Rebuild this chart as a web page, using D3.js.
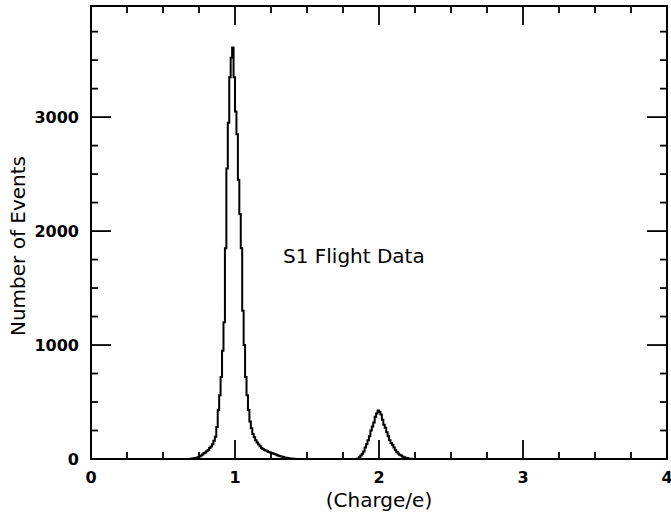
<!DOCTYPE html>
<head>
  <meta charset="utf-8">
  <title>S1 Flight Data</title>
  <script src="https://cdn.jsdelivr.net/npm/d3@7"></script>
  <style>
  body {
    margin: 0;
    background: white;
    font-family: "DejaVu Sans", sans-serif;
  }
  .tick-label {
    font-weight: bold;
    font-size: 16px;
  }
  .title {
    font-size: 20px;
  }
  </style>
</head>
<body>
<script type="text/javascript">
// Histogram data: bin width 0.01 in charge/e, counts
var binWidth = 0.01;

// Z=1 peak, first bin starts at 0.69
var peak1Start = 0.69;
var peak1Counts = [3, 5, 7, 9, 12, 16, 22, 30, 40, 50, 58, 68, 80, 96, 110, 130, 160, 195,
                   280, 430, 560, 720, 950, 1200, 1850, 2550, 2950, 3350, 3520, 3610,
                   3350, 3050, 2850, 2450, 2150, 1850, 1300, 1000, 720, 560, 430, 330, 270,
                   220, 190, 165, 145, 128, 112, 96, 88, 80, 74, 68, 62, 57, 53, 49, 44,
                   39, 34, 29, 25, 21, 17, 14, 11, 9, 7, 5, 4, 3, 2, 1];

// Z=2 peak, first bin starts at 1.85
var peak2Start = 1.85;
var peak2Counts = [5, 15, 30, 45, 65, 100, 130, 165, 200, 250, 285, 320, 370, 400, 425,
                   415, 390, 345, 300, 275, 235, 200, 165, 140, 125, 100, 80, 62, 48, 38,
                   30, 22, 16, 11, 8, 5, 3, 2, 1];

var xTicks = [0, 1, 2, 3, 4];
var yTicks = [0, 1000, 2000, 3000];

var width = 671, height = 517;
// plot frame (note: "top" is reserved on window, so use a margin object)
var frame = {left: 91, right: 667, top: 6, bottom: 459};

var svg = d3.select("body").append("svg")
    .attr("width", width)
    .attr("height", height);

var x = d3.scaleLinear().domain([0, 4]).range([frame.left, frame.right]);
var y = d3.scaleLinear().domain([0, 3975]).range([frame.bottom, frame.top]);

// build the step outline: flat on zero between peaks
function stepPoints(start, counts) {
  var pts = [];
  counts.forEach(function(c, i) { pts.push([start + i * binWidth, c]); });
  pts.push([start + counts.length * binWidth, 0]);
  return pts;
}
var points = [[0, 0]]
    .concat(stepPoints(peak1Start, peak1Counts))
    .concat(stepPoints(peak2Start, peak2Counts))
    .concat([[4, 0]]);

var line = d3.line()
    .x(function(d) { return x(d[0]); })
    .y(function(d) { return y(d[1]); })
    .curve(d3.curveStepAfter);

svg.append("path")
    .datum(points)
    .attr("d", line)
    .attr("fill", "none")
    .attr("stroke", "black")
    .attr("stroke-width", 2);

// frame
svg.append("rect")
    .attr("x", frame.left).attr("y", frame.top)
    .attr("width", frame.right - frame.left).attr("height", frame.bottom - frame.top)
    .attr("fill", "none")
    .attr("stroke", "black")
    .attr("stroke-width", 2);

// ticks on all four sides, pointing inward
var xMinor = d3.range(0, 4.001, 0.25);
var yMinor = d3.range(0, 3975, 250);

function isMajorX(v) { return Math.abs(v - Math.round(v)) < 1e-6; }
function isMajorY(v) { return v % 1000 === 0; }

var ticks = svg.append("g").attr("stroke", "black").attr("stroke-width", 1.8);

xMinor.forEach(function(v) {
  var len = isMajorX(v) ? 19 : 7;
  ticks.append("line").attr("x1", x(v)).attr("x2", x(v))
      .attr("y1", frame.bottom).attr("y2", frame.bottom - len);
  ticks.append("line").attr("x1", x(v)).attr("x2", x(v))
      .attr("y1", frame.top).attr("y2", frame.top + len);
});
yMinor.forEach(function(v) {
  var len = isMajorY(v) ? 20 : 7;
  ticks.append("line").attr("y1", y(v)).attr("y2", y(v))
      .attr("x1", frame.left).attr("x2", frame.left + len);
  ticks.append("line").attr("y1", y(v)).attr("y2", y(v))
      .attr("x1", frame.right).attr("x2", frame.right - len);
});

// tick labels
svg.selectAll(".xlab")
    .data(xTicks)
    .enter().append("text")
    .attr("class", "tick-label")
    .attr("x", function(d) { return x(d); })
    .attr("y", 483)
    .attr("text-anchor", "middle")
    .text(function(d) { return d; });

svg.selectAll(".ylab")
    .data(yTicks)
    .enter().append("text")
    .attr("class", "tick-label")
    .attr("x", 79)
    .attr("y", function(d) { return y(d) + 6; })
    .attr("text-anchor", "end")
    .text(function(d) { return d; });

// titles
svg.append("text")
    .attr("class", "title")
    .attr("x", x(2))
    .attr("y", 507)
    .attr("text-anchor", "middle")
    .text("(Charge/e)");

svg.append("text")
    .attr("class", "title")
    .attr("transform", "translate(25," + 246 + ") rotate(-90)")
    .attr("text-anchor", "middle")
    .text("Number of Events");

svg.append("text")
    .attr("class", "title")
    .attr("x", 283)
    .attr("y", 263)
    .text("S1 Flight Data");
</script>
</body>
</html>
